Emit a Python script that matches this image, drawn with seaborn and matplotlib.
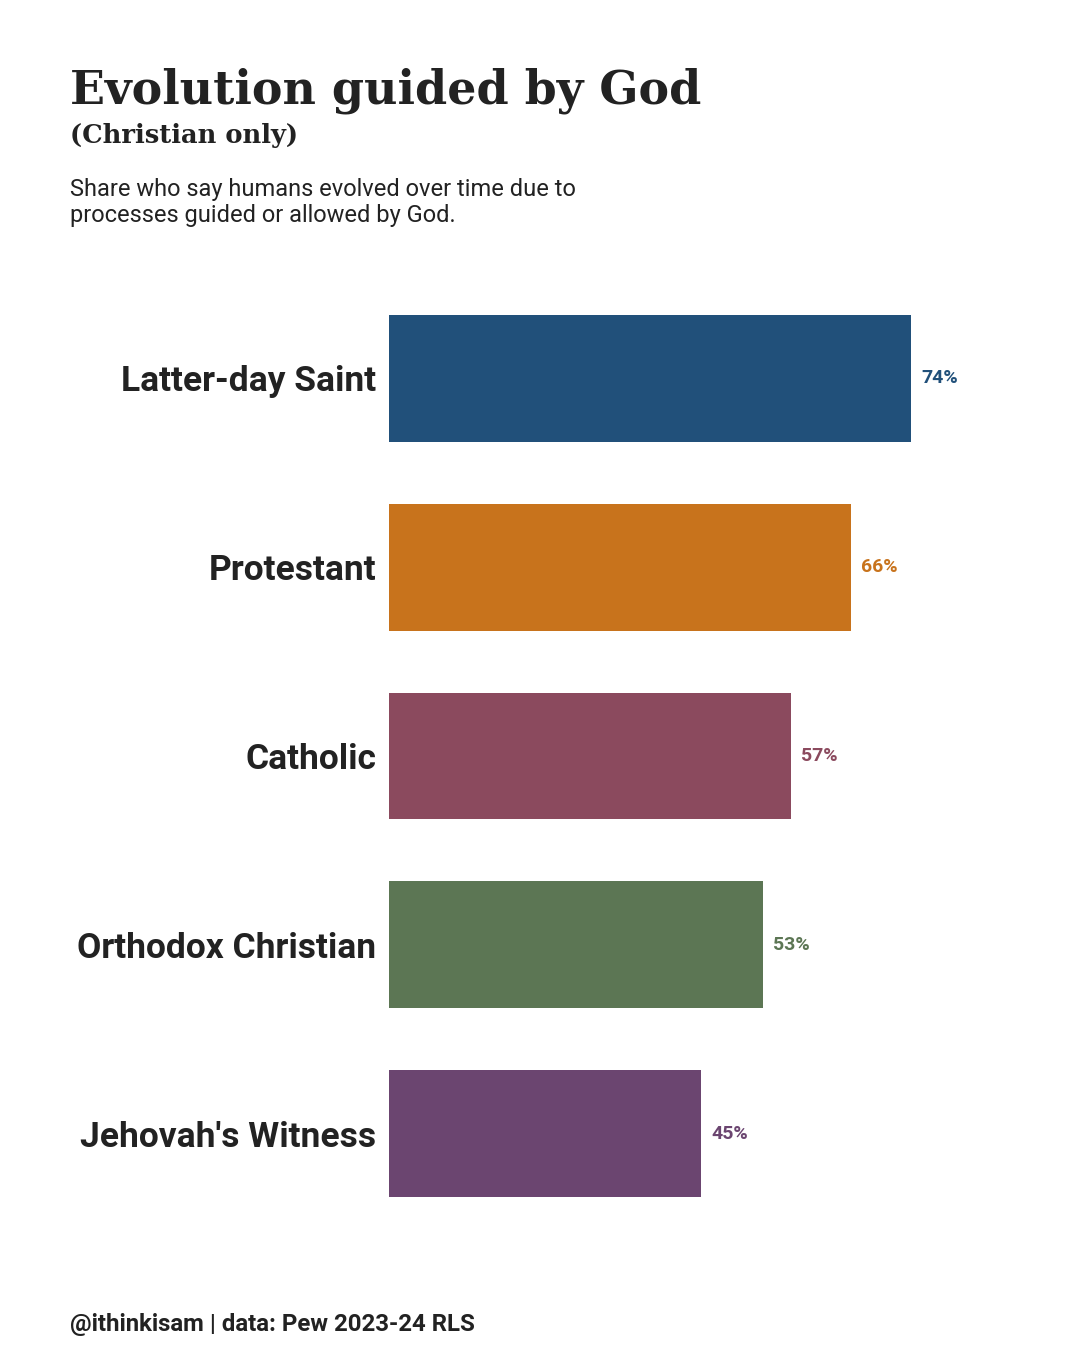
import matplotlib
matplotlib.use("Agg")
import matplotlib.pyplot as plt
import seaborn as sns
import pandas as pd

categories = ["Latter-day Saint", "Protestant", "Catholic", "Orthodox Christian", "Jehovah's Witness"]
values = [74.0, 65.5, 57.0, 53.0, 44.3]
colors = ["#21507A", "#C8731C", "#8B4A5E", "#5C7654", "#6B4570"]
value_labels = ["74%", "66%", "57%", "53%", "45%"]

sns.set_theme(style="white")
plt.rcParams['font.family'] = ['Roboto', 'DejaVu Sans']

df = pd.DataFrame({"cat": categories, "val": values})

fig = plt.figure(figsize=(10.8, 13.5), dpi=100)
ax = fig.add_axes([389/1080, 1-1228/1350, 651/1080, 944/1350])
sns.barplot(data=df, y="cat", x="val", hue="cat", palette=colors, order=categories,
            hue_order=categories, width=0.672, legend=False, ax=ax, saturation=1,
            linewidth=0, edgecolor="none")
ax.set_xlim(0, 92.3)
ax.set_ylim(4.5, -0.5)
ax.set_xlabel("")
ax.set_ylabel("")
ax.set_xticks([])
for s in ax.spines.values():
    s.set_visible(False)
ax.tick_params(axis="y", length=0, pad=9)
for lab in ax.get_yticklabels():
    lab.set_fontsize(25.5)
    lab.set_fontweight("bold")
    lab.set_color("#222222")

for i, (v, t, c) in enumerate(zip(values, value_labels, colors)):
    ax.text(v + 1.45, i, t, color=c, fontsize=14, fontweight="bold", va="center", ha="left")

TXT = "#222222"
fig.text(70/1080, 1-104/1350, "Evolution guided by God", family="DejaVu Serif",
         fontweight="bold", fontsize=33, color=TXT, va="baseline", ha="left")
fig.text(70/1080, 1-143/1350, "(Christian only)", family="DejaVu Serif",
         fontweight="bold", fontsize=18.5, color=TXT, va="baseline", ha="left")
fig.text(70/1080, 1-222/1350, "Share who say humans evolved over time due to\nprocesses guided or allowed by God.",
         fontsize=17, color=TXT, va="baseline", ha="left", linespacing=1.18)
fig.text(70/1080, 1-1331/1350, "@ithinkisam | data: Pew 2023-24 RLS",
         fontsize=17.3, fontweight="bold", color=TXT, va="baseline", ha="left")

fig.savefig("out.png", dpi=100, facecolor="white")
